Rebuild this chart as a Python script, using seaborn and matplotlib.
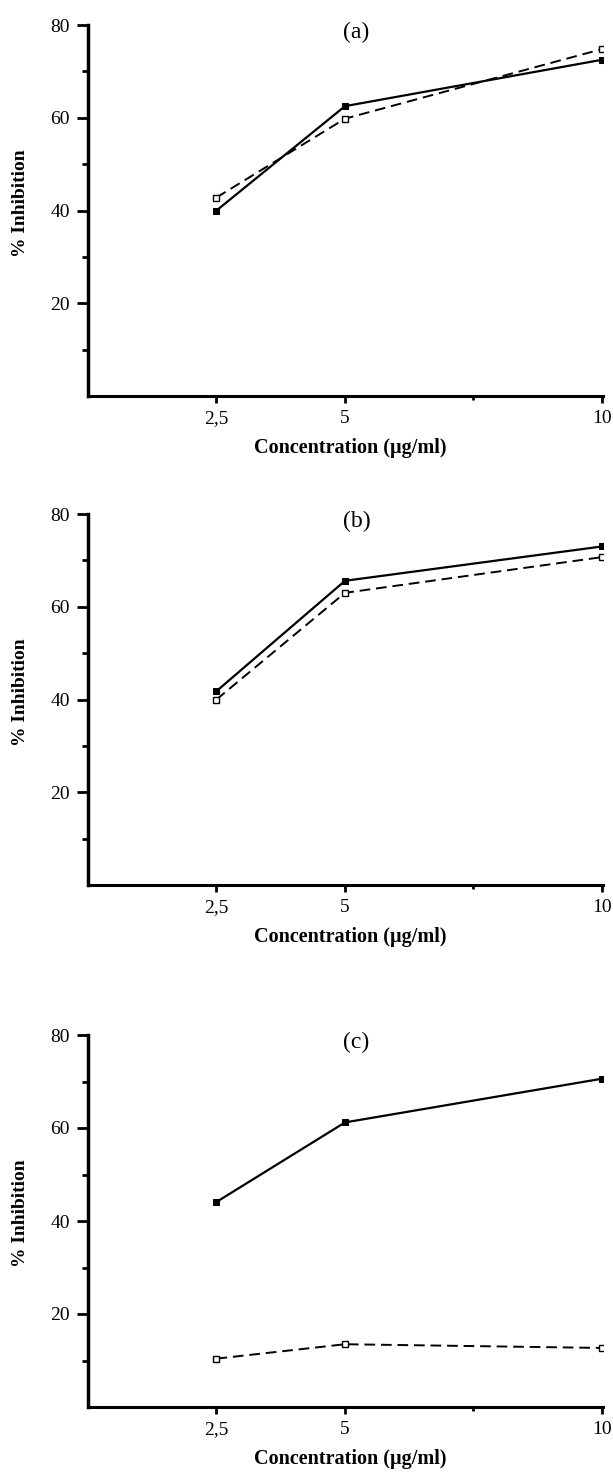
# %% MODULE BEGINS
module_name = 'inhibition_panels'

'''
Description:
    Three stacked panels of % inhibition against concentration,
    one solid series with filled squares and one dashed series with open squares.
'''

# %% IMPORTS                    ~~~~~~~~~~~~~~~~~~~~~~~~~~~~~~~~~~~~~~~~~~~~
import matplotlib
matplotlib.use('Agg')
from   matplotlib import pyplot as plt
import pandas as pd
import seaborn as sns

# %% CONSTANTS                   ~~~~~~~~~~~~~~~~~~~~~~~~~~~~~~~~~~~~~~~~~~~~
conc        = [2.5, 5, 10]
conc_labels = ['2,5', '5', '10']
panels      = ['(a)', '(b)', '(c)']

filled_a = [40.0, 62.5, 72.5]
open_a   = [42.8, 59.8, 74.8]
filled_b = [41.8, 65.6, 73.0]
open_b   = [40.0, 63.0, 70.7]
filled_c = [44.1, 61.2, 70.6]
open_c   = [10.4, 13.5, 12.7]

y_ticks = [20, 40, 60, 80]

# %% CONFIGURATION               ~~~~~~~~~~~~~~~~~~~~~~~~~~~~~~~~~~~~~~~~~~~~
sns.set_style('ticks')
plt.rcParams['font.family'] = ['Liberation Serif', 'DejaVu Serif']
for key in ['axes.edgecolor', 'text.color', 'axes.labelcolor',
            'xtick.color', 'ytick.color']:
    plt.rcParams[key] = 'black'

# axes boxes in figure fraction (left, bottom, width, height)
W, H = 613, 1476
boxes = [(88 / W, 1 - 396 / H, 515 / W, 371 / H),
         (88 / W, 1 - 885 / H, 515 / W, 371 / H),
         (88 / W, 1 - 1407 / H, 515 / W, 372 / H)]


# %% DECLARATIONS                ~~~~~~~~~~~~~~~~~~~~~~~~~~~~~~~~~~~~~~~~~~~~
def build_frame():
    rows = []
    for panel, fil, opn in zip(panels, [filled_a, filled_b, filled_c],
                               [open_a, open_b, open_c]):
        for x, f, o in zip(conc, fil, opn):
            rows.append({'panel': panel, 'conc': x, 'series': 'filled', 'inhibition': f})
            rows.append({'panel': panel, 'conc': x, 'series': 'open', 'inhibition': o})
    return pd.DataFrame(rows)


def draw_panel(ax, df, panel):
    sub = df[df['panel'] == panel]
    sns.lineplot(data=sub[sub['series'] == 'filled'], x='conc', y='inhibition',
                 ax=ax, color='black', lw=1.6, marker='s', markersize=4.5,
                 markerfacecolor='black', markeredgecolor='black', legend=False)
    sns.lineplot(data=sub[sub['series'] == 'open'], x='conc', y='inhibition',
                 ax=ax, color='black', lw=1.4, marker='s', markersize=4.5,
                 markerfacecolor='white', markeredgecolor='black',
                 markeredgewidth=1.0, dashes=(5.5, 3), legend=False)

    ax.set_xlim(0, 10.02)
    ax.set_ylim(0, 80)

    ax.set_xticks(conc)
    ax.set_xticklabels(conc_labels)
    # unlabelled tick halfway between the two upper concentrations
    ax.set_xticks([(conc[1] + conc[2]) / 2], minor=True)
    ax.set_yticks(y_ticks)
    ax.set_yticks([10, 30, 50, 70], minor=True)

    ax.tick_params(axis='x', which='major', direction='out', length=5, width=2,
                   pad=5, labelsize=14)
    ax.tick_params(axis='x', which='minor', direction='out', length=3, width=2,
                   labelbottom=False)
    ax.tick_params(axis='y', which='major', direction='out', length=8, width=2,
                   pad=5, labelsize=14)
    ax.tick_params(axis='y', which='minor', direction='out', length=4, width=2)

    for side in ['top', 'right']:
        ax.spines[side].set_visible(False)
    ax.spines['left'].set_linewidth(2.5)
    ax.spines['bottom'].set_linewidth(2.2)

    ax.set_xlabel('Concentration (µg/ml)', fontsize=14.5, fontweight='bold')
    ax.xaxis.set_label_coords(0.509, -0.112)
    ax.set_ylabel('% Inhibition', fontsize=14, fontweight='bold')
    ax.yaxis.set_label_coords(-0.115, 0.52)

    ax.text(0.521, 0.981, panel, transform=ax.transAxes, ha='center', va='center',
            fontsize=17)


def main():
    df = build_frame()
    fig = plt.figure(figsize=(W / 100, H / 100), dpi=100)
    for panel, box in zip(panels, boxes):
        ax = fig.add_axes(box)
        draw_panel(ax, df, panel)
    fig.savefig('out.png', dpi=100, facecolor='white')


# %% SELF-RUN                   ~~~~~~~~~~~~~~~~~~~~~~~~~~~~~~~~~~~~~~~~~~~~
if __name__ == "__main__":
    main()
